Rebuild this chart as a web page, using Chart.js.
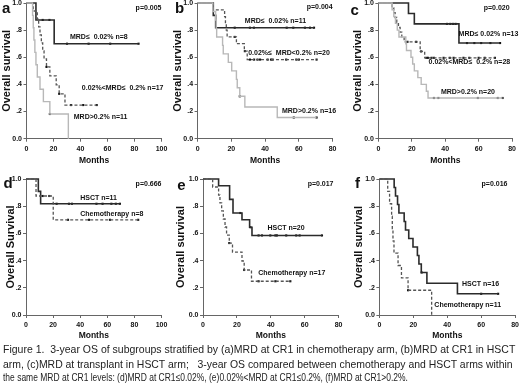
<!DOCTYPE html>
<html>
<head>
<meta charset="utf-8">
<script src="https://cdn.jsdelivr.net/npm/chart.js@4.4.1/dist/chart.umd.min.js"></script>
<style>
  html, body { margin: 0; padding: 0; background: #fff; }
  body { width: 520px; height: 387px; position: relative; overflow: hidden; }
  canvas { position: absolute; }
  .cap { position: absolute; left: 3px; white-space: nowrap; font: 11px "Liberation Sans", Arial, sans-serif;
         color: #222; line-height: 14px; transform-origin: left center; }
</style>
</head>
<body>
<canvas id="pa"></canvas>
<canvas id="pb"></canvas>
<canvas id="pc"></canvas>
<canvas id="pd"></canvas>
<canvas id="pe"></canvas>
<canvas id="pf"></canvas>
<div class="cap" id="cap1" style="top:342px">Figure 1.&nbsp; 3-year OS of subgroups stratified by (a)MRD at CR1 in chemotherapy arm, (b)MRD at CR1 in HSCT</div>
<div class="cap" id="cap2" style="top:357px">arm, (c)MRD at transplant in HSCT arm;&nbsp;&nbsp; 3-year OS compared between chemotherapy and HSCT arms within</div>
<div class="cap" id="cap3" style="top:370px">the same MRD at CR1 levels: (d)MRD at CR1≤0.02%, (e)0.02%&lt;MRD at CR1≤0.2%, (f)MRD at CR1&gt;0.2%.</div>
<script>
// tick labels
const yTickLabels = ['0.0', '.2', '.4', '.6', '.8', '1.0'];
const xTicksLong = [0, 20, 40, 60, 80, 100];
const xTicksShort = [0, 20, 40, 60, 80];

// (a) MRD at CR1, chemotherapy arm
const aLowT = [0, 7, 20.5, 83];
const aLowS = [1, 0.875, 0.70, 0.70];
const aLowC = [12, 17, 30, 46, 62, 83];
const aMidT = [0, 5, 8, 9, 10, 11, 12, 13, 14.8, 17.3, 22, 24.2, 28.5, 52];
const aMidS = [1, 0.941, 0.882, 0.824, 0.765, 0.706, 0.647, 0.588, 0.529, 0.463, 0.397, 0.331, 0.248, 0.248];
const aMidC = [14.8, 24.2, 33, 42, 52];
const aHighT = [0, 4.5, 5, 5.5, 6.2, 7, 8, 10, 12.5, 17.3, 31];
const aHighS = [1, 0.909, 0.818, 0.727, 0.636, 0.545, 0.455, 0.364, 0.273, 0.182, 0];
const aHighC = [17.3];

// (b) MRD at CR1, HSCT arm
const bLowT = [0, 9.3, 10.7, 69];
const bLowS = [1, 0.909, 0.818, 0.818];
const bLowC = [22, 31, 33.4, 52.8, 56.7, 63.6, 66.6, 69];
const bMidT = [0, 9.3, 16, 16.5, 17, 17.5, 23, 27.7, 29.4, 70.5];
const bMidS = [1, 0.95, 0.90, 0.85, 0.80, 0.75, 0.70, 0.645, 0.583, 0.583];
const bMidC = [22, 28, 31, 33.5, 35.5, 37, 41.5, 43.5, 44.5, 52.5, 58.5, 60, 70.5];
const bHighT = [0, 9, 10.7, 11, 11.3, 14.8, 15.2, 18.2, 20.2, 23, 23.5, 25, 28, 47.2, 70.5];
const bHighS = [1, 0.9375, 0.875, 0.8125, 0.75, 0.6875, 0.625, 0.5625, 0.5, 0.4375, 0.375, 0.3125, 0.234, 0.156, 0.156];
const bHighC = [25, 57, 70.5];

// (c) MRD at transplant, HSCT arm
const cLowT = [0, 18, 21.5, 48.2, 72.8];
const cLowS = [1, 0.923, 0.846, 0.705, 0.705];
const cLowC = [41, 43, 44.7, 46.2, 53, 57.4, 61.5, 67, 72.8];
const cMidT = [0, 8.2, 9.2, 10, 11, 12, 13, 14, 15.4, 25, 27.7, 69.7];
const cMidS = [1, 0.964, 0.929, 0.893, 0.857, 0.821, 0.786, 0.75, 0.714, 0.643, 0.596, 0.596];
const cMidC = [17.4, 22.6, 25.6, 28.7, 29.7, 31.8, 33.2, 39, 42.7, 45, 50.9, 54.4, 60, 63.6, 69.7];
const cHighT = [0, 8.2, 9.2, 10.2, 11.3, 12.3, 16.4, 16.8, 19.5, 20.5, 21.5, 23.6, 25.6, 28.7, 29.7, 74.3];
const cHighS = [1, 0.95, 0.90, 0.85, 0.80, 0.75, 0.70, 0.65, 0.60, 0.55, 0.50, 0.45, 0.40, 0.35, 0.30, 0.30];
const cHighC = [33.2, 35.9, 59.5, 71.4, 74.3];

// (d) MRD at CR1 <= 0.02%
const dHsctT = [0, 9.1, 10.8, 69.3];
const dHsctS = [1, 0.909, 0.818, 0.818];
const dHsctC = [22.6, 31.7, 33.9, 52, 56.5, 63, 66.3, 69.3];
const dChemoT = [0, 7.4, 20.1, 82.8];
const dChemoS = [1, 0.875, 0.70, 0.70];
const dChemoC = [12.3, 17.2, 31, 46.5, 62, 82.8];

// (e) 0.02% < MRD at CR1 <= 0.2%
const eHsctT = [0, 9.2, 15.7, 17.7, 23, 27.5, 28.9, 70.2];
const eHsctS = [1, 0.95, 0.85, 0.75, 0.70, 0.645, 0.585, 0.585];
const eHsctC = [22, 28, 32.8, 34.8, 39.7, 42.7, 43.6, 49.1, 55, 57, 70.2];
const eChemoT = [0, 5.7, 9.2, 10, 11, 12, 13, 13.9, 15.5, 17.4, 23, 24.3, 28.6, 52];
const eChemoS = [1, 0.941, 0.882, 0.824, 0.765, 0.706, 0.647, 0.588, 0.529, 0.463, 0.397, 0.331, 0.248, 0.248];
const eChemoC = [15.5, 24.3, 32.8, 42.7, 51.5];

// (f) MRD at CR1 > 0.2%
const fHsctT = [0, 8.7, 9.5, 10.7, 11.5, 14.6, 15.4, 17.3, 19.8, 22.4, 23.3, 24.7, 28, 46, 70];
const fHsctS = [1, 0.9375, 0.875, 0.8125, 0.75, 0.6875, 0.625, 0.5625, 0.5, 0.4375, 0.375, 0.3125, 0.234, 0.156, 0.156];
const fHsctC = [24.9, 60, 70];
const fChemoT = [0, 4.9, 6, 7.2, 7.6, 8, 8.6, 11, 13, 16.9, 30.8];
const fChemoS = [1, 0.909, 0.818, 0.727, 0.636, 0.545, 0.455, 0.364, 0.273, 0.182, 0];
const fChemoC = [16.9];

const FONT = '"Liberation Sans", Arial, sans-serif';
const AXIS = '#666';
const PAD_L = 6, PAD_T = 10, PAD_R = 16, PAD_B = 2;

const solid = { borderColor: '#2b2b2b', borderWidth: 1.6 };
const dashed = { borderColor: '#555', borderWidth: 1.3, borderDash: [3, 2] };
const light = { borderColor: '#b8b8b8', borderWidth: 1.4 };

// survival value at time t from a step curve
const survAt = (T, S, t) => {
    let v = S[0];
    for (let i = 0; i < T.length; i++) if (T[i] <= t) v = S[i];
    return v;
};

const curve = (T, S, style) => ({
    data: T.map((t, i) => ({ x: t, y: S[i] })),
    stepped: 'before',
    pointRadius: 0,
    fill: false,
    clip: false,
    ...style
});

const censors = (T, S, C) => ({
    data: C.map(t => ({ x: t, y: survAt(T, S, t) })),
    showLine: false,
    pointStyle: 'rect',
    pointRadius: 1.5,
    backgroundColor: '#111',
    borderWidth: 0,
    clip: false
});

const textPlugin = {
    id: 'panelText',
    afterDatasetsDraw(chart, args, opts) {
        const { ctx, chartArea } = chart;
        const x = chart.scales.x, y = chart.scales.y;
        ctx.save();
        ctx.fillStyle = '#111';
        ctx.textBaseline = 'middle';
        opts.labels.forEach(l => {
            ctx.font = 'bold ' + (l.size || 7) + 'px ' + FONT;
            ctx.textAlign = l.align || 'left';
            ctx.fillText(l.text, x.getPixelForValue(l.x), y.getPixelForValue(l.y));
        });
        ctx.font = 'bold 15px ' + FONT;
        ctx.textAlign = 'left';
        ctx.textBaseline = 'alphabetic';
        ctx.fillText(opts.letter, chartArea.left + opts.dx, chartArea.top + opts.dy);
        ctx.restore();
    }
};

const buildPanel = (p) => {
    const canvas = document.getElementById(p.id);
    const w = (p.r - p.l) + PAD_L + p.yw + PAD_R;
    const h = (p.b - p.t) + PAD_T + p.xh + PAD_B;
    canvas.width = Math.round(w);
    canvas.height = Math.round(h);
    canvas.style.left = (p.l - p.yw - PAD_L) + 'px';
    canvas.style.top = (p.t - PAD_T) + 'px';
    const xTicks = p.xMax === 100 ? xTicksLong : xTicksShort;

    new Chart(canvas, {
        type: 'line',
        data: { datasets: p.datasets },
        plugins: [textPlugin],
        options: {
            responsive: false,
            animation: false,
            devicePixelRatio: 1,
            layout: { padding: { left: PAD_L, top: PAD_T, right: PAD_R + (canvas.width - w), bottom: PAD_B + (canvas.height - h) } },
            plugins: {
                legend: { display: false },
                tooltip: { enabled: false },
                panelText: { labels: p.labels, letter: p.letter, dx: p.dx, dy: p.dy }
            },
            scales: {
                x: {
                    type: 'linear', min: 0, max: p.xMax,
                    afterBuildTicks: s => { s.ticks = xTicks.map(v => ({ value: v })); },
                    ticks: { font: { family: FONT, size: 7, weight: 'bold' }, color: '#111', padding: 3, maxRotation: 0, autoSkip: false },
                    grid: { drawOnChartArea: false, tickLength: 3, color: AXIS },
                    border: { color: AXIS },
                    title: { display: true, text: 'Months', font: { family: FONT, size: 8.5, weight: 'bold' }, color: '#111', padding: 0 },
                    afterFit: s => { s.height = p.xh; }
                },
                y: {
                    min: 0, max: 1,
                    afterBuildTicks: s => { s.ticks = yTickLabels.map((t, i) => ({ value: i / 5 })); },
                    ticks: {
                        font: { family: FONT, size: 7, weight: 'bold' }, color: '#111', padding: 1.5,
                        callback: v => yTickLabels[Math.round(v * 5)]
                    },
                    grid: { drawOnChartArea: false, tickLength: 3, color: AXIS },
                    border: { color: AXIS },
                    title: { display: true, text: p.yTitle, font: { family: FONT, size: 11, weight: 'bold' }, color: '#111', padding: 0 },
                    afterFit: s => { s.width = p.yw; }
                }
            }
        }
    });
};

const ROW1 = { t: 3.3, b: 139 };
const ROW2 = { t: 179.3, b: 315.3 };

buildPanel({
    id: 'pa', ...ROW1, l: 26.5, r: 161.5, xMax: 100, yw: 26.5, xh: 27, yTitle: 'Overall survival',
    letter: 'a', dx: -24.5, dy: 9.7,
    datasets: [
        curve(aHighT, aHighS, light), curve(aMidT, aMidS, dashed), curve(aLowT, aLowS, solid),
        censors(aHighT, aHighS, aHighC), censors(aMidT, aMidS, aMidC), censors(aLowT, aLowS, aLowC)
    ],
    labels: [
        { text: 'p=0.005', x: 100, y: 0.965, align: 'right' },
        { text: 'MRD≤  0.02% n=8', x: 32.2, y: 0.75 },
        { text: '0.02%<MRD≤  0.2% n=17', x: 41, y: 0.37 },
        { text: 'MRD>0.2% n=11', x: 35, y: 0.16 }
    ]
});

buildPanel({
    id: 'pb', ...ROW1, l: 197.7, r: 332.7, xMax: 80, yw: 26.6, xh: 27, yTitle: 'Overall survival',
    letter: 'b', dx: -22.7, dy: 9.7,
    datasets: [
        curve(bHighT, bHighS, light), curve(bMidT, bMidS, dashed), curve(bLowT, bLowS, solid),
        censors(bHighT, bHighS, bHighC), censors(bMidT, bMidS, bMidC), censors(bLowT, bLowS, bLowC)
    ],
    labels: [
        { text: 'p=0.004', x: 80, y: 0.97, align: 'right' },
        { text: 'MRD≤  0.02% n=11', x: 28, y: 0.87 },
        { text: '0.02%≤  MRD<0.2% n=20', x: 30, y: 0.634 },
        { text: 'MRD>0.2% n=16', x: 50, y: 0.206 }
    ]
});

buildPanel({
    id: 'pc', ...ROW1, l: 378.3, r: 512, xMax: 80, yw: 27.4, xh: 27, yTitle: 'Overall survival',
    letter: 'c', dx: -28, dy: 11.7,
    datasets: [
        curve(cHighT, cHighS, light), curve(cMidT, cMidS, dashed), curve(cLowT, cLowS, solid),
        censors(cHighT, cHighS, cHighC), censors(cMidT, cMidS, cMidC), censors(cLowT, cLowS, cLowC)
    ],
    labels: [
        { text: 'p=0.020', x: 78.5, y: 0.965, align: 'right' },
        { text: 'MRD≤ 0.02% n=13', x: 48, y: 0.774 },
        { text: '0.02%<MRD≤  0.2% n=28', x: 30, y: 0.567 },
        { text: 'MRD>0.2% n=20', x: 37.4, y: 0.346 }
    ]
});

buildPanel({
    id: 'pd', ...ROW2, l: 25.5, r: 161, xMax: 100, yw: 22, xh: 26, yTitle: 'Overall Survival',
    letter: 'd', dx: -22.5, dy: 8.7,
    datasets: [
        curve(dChemoT, dChemoS, dashed), curve(dHsctT, dHsctS, solid),
        censors(dChemoT, dChemoS, dChemoC), censors(dHsctT, dHsctS, dHsctC)
    ],
    labels: [
        { text: 'p=0.666', x: 100, y: 0.963, align: 'right' },
        { text: 'HSCT n=11', x: 40, y: 0.86 },
        { text: 'Chemotherapy n=8', x: 40, y: 0.745 }
    ]
});

buildPanel({
    id: 'pe', ...ROW2, l: 202.7, r: 338.3, xMax: 80, yw: 29, xh: 26, yTitle: 'Overall survival',
    letter: 'e', dx: -25.7, dy: 10.7,
    datasets: [
        curve(eChemoT, eChemoS, dashed), curve(eHsctT, eHsctS, solid),
        censors(eChemoT, eChemoS, eChemoC), censors(eHsctT, eHsctS, eHsctC)
    ],
    labels: [
        { text: 'p=0.017', x: 77, y: 0.963, align: 'right' },
        { text: 'HSCT n=20', x: 38, y: 0.64 },
        { text: 'Chemotherapy n=17', x: 32.6, y: 0.31 }
    ]
});

buildPanel({
    id: 'pf', ...ROW2, l: 379.3, r: 515, xMax: 80, yw: 27.4, xh: 26, yTitle: 'Overall survival',
    letter: 'f', dx: -24.3, dy: 8.7,
    datasets: [
        curve(fChemoT, fChemoS, dashed), curve(fHsctT, fHsctS, solid),
        censors(fChemoT, fChemoS, fChemoC), censors(fHsctT, fHsctS, fHsctC)
    ],
    labels: [
        { text: 'p=0.016', x: 75.5, y: 0.963, align: 'right' },
        { text: 'HSCT n=16', x: 48.7, y: 0.228 },
        { text: 'Chemotherapy n=11', x: 32.4, y: 0.074 }
    ]
});

// stretch caption lines to the widths seen in the figure
[['cap1', 512], ['cap2', 510], ['cap3', 405]].forEach(([id, target]) => {
    const el = document.getElementById(id);
    el.style.transform = 'scaleX(' + (target / el.offsetWidth) + ')';
});
</script>
</body>
</html>
